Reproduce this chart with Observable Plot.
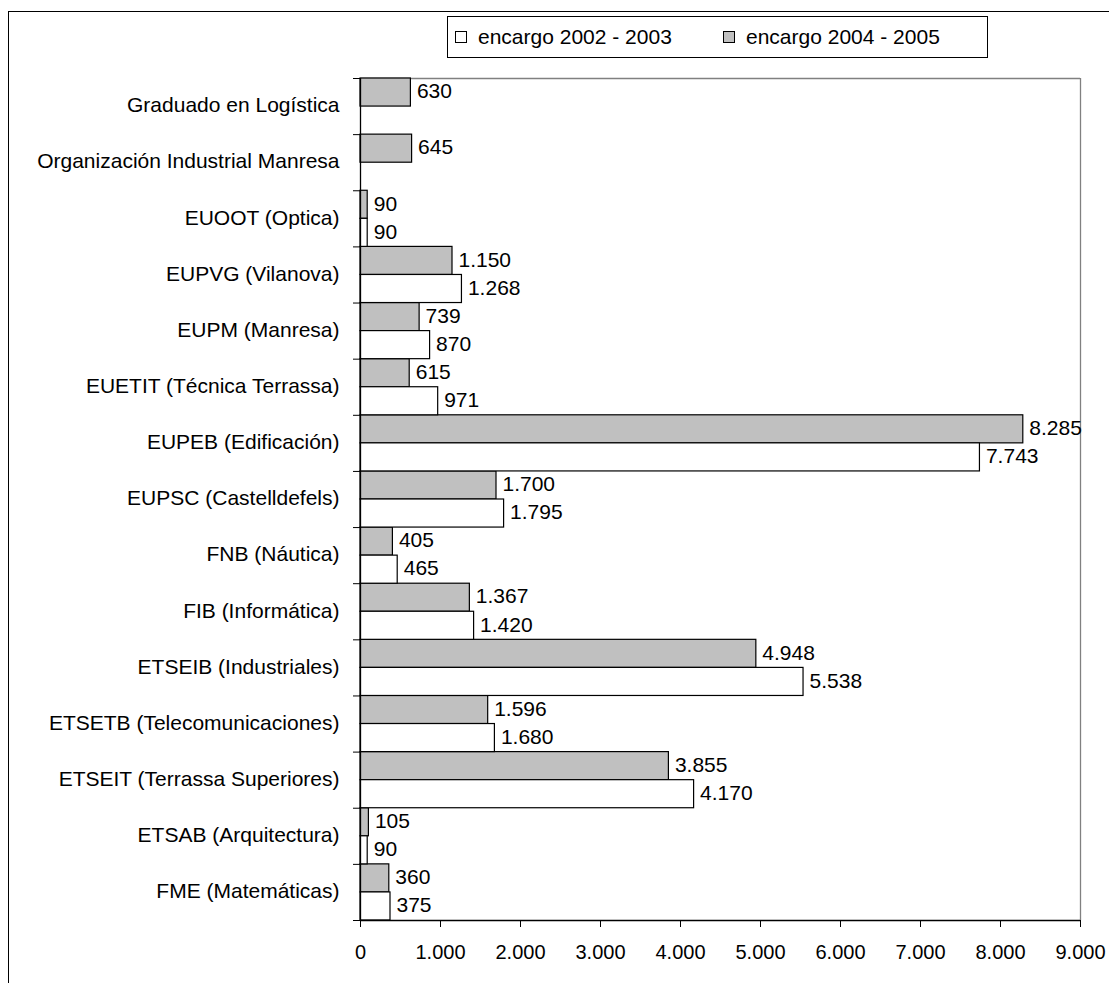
<!DOCTYPE html>
<html>
<head>
<meta charset="utf-8">
<script src="https://cdn.jsdelivr.net/npm/d3@7"></script>
<script src="https://cdn.jsdelivr.net/npm/@observablehq/plot@0.6"></script>
<style>
  html, body { margin: 0; padding: 0; background: white; overflow: hidden; }
  #wrap { position: relative; width: 1109px; height: 983px; font-family: "Liberation Sans", Arial, sans-serif; }
  #frame { position: absolute; left: 8px; top: 11px; width: 2000px; height: 2000px; border: 1px solid #000; box-sizing: border-box; pointer-events: none; }
  #legend { position: absolute; left: 447px; top: 16px; width: 541px; height: 42px; border: 1px solid #000; box-sizing: border-box; background: white; font-size: 21px; color: #000; }
  .item { position: absolute; top: 0; height: 40px; display: flex; align-items: center; }
  .sw { width: 12px; height: 12px; border: 1px solid #000; box-sizing: border-box; margin-right: 11px; }
  #chart { position: absolute; left: 0; top: 0; }
</style>
</head>
<body>
<div id="wrap">
  <div id="chart"></div>
  <div id="legend"></div>
  <div id="frame"></div>
</div>
<script>
const categories = [
  "Graduado en Logística",
  "Organización Industrial Manresa",
  "EUOOT (Optica)",
  "EUPVG (Vilanova)",
  "EUPM (Manresa)",
  "EUETIT (Técnica Terrassa)",
  "EUPEB (Edificación)",
  "EUPSC (Castelldefels)",
  "FNB (Náutica)",
  "FIB (Informática)",
  "ETSEIB (Industriales)",
  "ETSETB (Telecomunicaciones)",
  "ETSEIT (Terrassa Superiores)",
  "ETSAB (Arquitectura)",
  "FME (Matemáticas)"
];
const encargo0203 = [null, null, 90, 1268, 870, 971, 7743, 1795, 465, 1420, 5538, 1680, 4170, 90, 375];
const encargo0405 = [630, 645, 90, 1150, 739, 615, 8285, 1700, 405, 1367, 4948, 1596, 3855, 105, 360];
const seriesNames = ["encargo 2002 - 2003", "encargo 2004 - 2005"];
const seriesColors = ["#ffffff", "#c0c0c0"];
const xTicks = [0, 1000, 2000, 3000, 4000, 5000, 6000, 7000, 8000, 9000];

const locale = d3.formatLocale({decimal: ",", thousands: ".", grouping: [3], currency: ["", ""]});
const fmt = locale.format(",d");

const rows = categories.map((c, i) => ({cat: c, i, a: encargo0203[i], b: encargo0405[i]}));
const rowsA = rows.filter(d => d.a != null);
const rowsB = rows.filter(d => d.b != null);
const boundaries = d3.range(categories.length + 1);

const chart = Plot.plot({
  width: 1109,
  height: 983,
  marginLeft: 360,
  marginRight: 29,
  marginTop: 78,
  marginBottom: 63,
  style: {fontFamily: "'Liberation Sans', Arial, sans-serif", fontSize: "20px", background: "transparent", color: "#000"},
  x: {domain: [0, 9000], ticks: xTicks, tickFormat: fmt, tickSize: 7, tickPadding: 17, label: null},
  y: {domain: [0, categories.length], reverse: true, ticks: boundaries, tickFormat: () => "", tickSize: 7, tickPadding: 0, label: null},
  marks: [
    Plot.ruleY([0], {stroke: "#808080", strokeWidth: 1.3}),
    Plot.ruleX([9000], {stroke: "#808080", strokeWidth: 1.3}),
    Plot.rect(rowsB, {x1: 0, x2: "b", y1: "i", y2: d => d.i + 0.5, fill: seriesColors[1], stroke: "#000", strokeWidth: 1.2}),
    Plot.rect(rowsA, {x1: 0, x2: "a", y1: d => d.i + 0.5, y2: d => d.i + 1, fill: seriesColors[0], stroke: "#000", strokeWidth: 1.2}),
    Plot.ruleX([0], {stroke: "#000", strokeWidth: 1.3}),
    Plot.ruleY([categories.length], {stroke: "#000", strokeWidth: 1.3}),
    Plot.text(rowsB, {x: "b", y: d => d.i + 0.25, text: d => fmt(d.b), textAnchor: "start", lineAnchor: "middle", dx: 6, dy: -1, fontSize: 21, fill: "#000"}),
    Plot.text(rowsA, {x: "a", y: d => d.i + 0.75, text: d => fmt(d.a), textAnchor: "start", lineAnchor: "middle", dx: 6, dy: -1, fontSize: 21, fill: "#000"}),
    Plot.text(rows, {x: 0, y: d => d.i + 0.5, text: "cat", textAnchor: "end", lineAnchor: "middle", dx: -21, dy: -1, fontSize: 21, fill: "#000"})
  ]
});
document.getElementById("chart").appendChild(chart);

const legend = document.getElementById("legend");
const itemLefts = [7, 275];
seriesNames.forEach((name, k) => {
  const it = document.createElement("div");
  it.className = "item";
  it.style.left = itemLefts[k] + "px";
  const sw = document.createElement("div");
  sw.className = "sw";
  sw.style.background = seriesColors[k];
  const t = document.createElement("span");
  t.textContent = name;
  it.appendChild(sw);
  it.appendChild(t);
  legend.appendChild(it);
});
</script>
</body>
</html>
